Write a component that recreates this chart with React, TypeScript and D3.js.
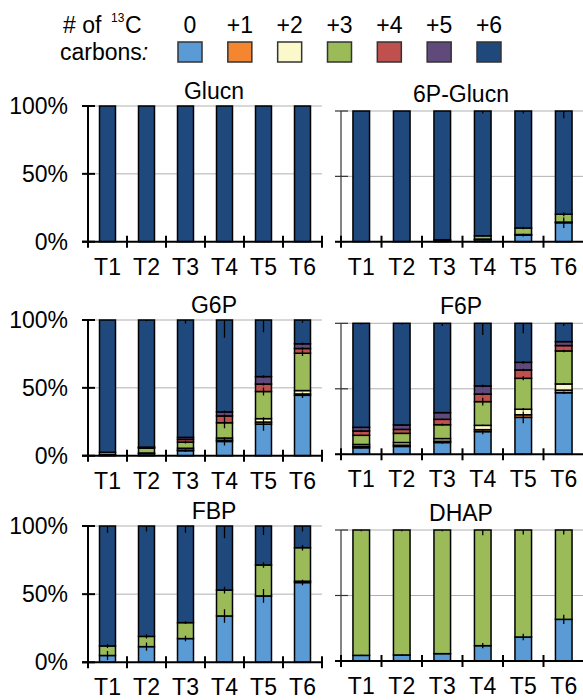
import React from "react";
import * as d3 from "d3";

// Sampling time points and isotopologue labels
const timepoints = ["T1", "T2", "T3", "T4", "T5", "T6"];
const isotopologues = ["0", "+1", "+2", "+3", "+4", "+5", "+6"];
const isoColors = ["#5B9BD5", "#F58631", "#FBF8CC", "#9BBB59", "#C0504D", "#604A7B", "#1F497D"];

// Fractional labelling (%) — rows: isotopologue 0..+6, columns: T1..T6
const glucn = [
  [0, 0, 0, 0, 0, 0],
  [0, 0, 0, 0, 0, 0],
  [0, 0, 0, 0, 0, 0],
  [0, 0, 0, 0, 0, 0],
  [0, 0, 0, 0, 0, 0],
  [0, 0, 0, 0, 0, 0],
  [100, 100, 100, 100, 100, 100],
];
const glucnErr = [
  [0, 0, 0, 0, 0, 0],
  [0, 0, 0, 0, 0, 0],
  [0, 0, 0, 0, 0, 0],
  [0, 0, 0, 0, 0, 0],
  [0, 0, 0, 0, 0, 0],
  [0, 0, 0, 0, 0, 0],
  [0, 0, 0, 0, 0, 0],
];

const glucn6p = [
  [0, 0, 0.5, 1.5, 5, 14.5],
  [0, 0, 0, 0, 0, 0],
  [0, 0, 0, 0.5, 0.5, 0.5],
  [0, 0, 1, 2.5, 5, 6],
  [0, 0, 0, 0, 0, 0],
  [0, 0, 0, 0, 0, 0],
  [100, 100, 98.5, 95.5, 89.5, 79],
];
const glucn6pErr = [
  [0, 0, 0, 0.5, 1, 4],
  [0, 0, 0, 0, 0, 0],
  [0, 0, 0, 0, 0, 0],
  [0, 0, 0, 0.5, 1, 1.5],
  [0, 0, 0, 0, 0, 0],
  [0, 0, 0, 0, 0, 0],
  [0, 0, 0, 2, 2, 5.5],
];

const g6p = [
  [0.5, 1.5, 3.7, 10.5, 23.3, 44.5],
  [0, 0, 0.5, 1, 1.5, 1],
  [0.3, 0.5, 1.3, 1.5, 2.5, 2.5],
  [1.7, 3.5, 4.5, 11.3, 20, 27.5],
  [0, 0.5, 2, 5, 5.5, 3.5],
  [0, 0.3, 1.5, 3, 5.5, 3.5],
  [97.5, 93.7, 86.5, 67.7, 41.7, 17.5],
];
const g6pErr = [
  [0, 0.5, 1, 3, 5, 2],
  [0, 0, 0, 0, 0, 0],
  [0, 0, 0, 0.5, 0.5, 0.5],
  [0, 0.5, 1, 4, 3, 2],
  [0, 0, 0.5, 1, 1, 1],
  [0, 0, 0.5, 1, 1, 1],
  [0, 1, 2.5, 13, 9, 2],
];

const f6p = [
  [5, 6, 9, 17.3, 28.2, 47],
  [1, 1, 1, 1.5, 2, 2],
  [1.5, 2, 2, 3.3, 4.2, 4.7],
  [7, 7, 10.6, 18.1, 23.6, 25.2],
  [3.3, 3, 4.1, 5.8, 6.4, 4.1],
  [2.8, 3.4, 5.1, 6.2, 5.8, 3],
  [79.4, 77.6, 68.2, 47.8, 29.8, 14],
];
const f6pErr = [
  [0.5, 0.5, 1, 2, 4.5, 1],
  [0, 0, 0, 0, 0, 0],
  [0, 0, 0.5, 0.5, 1, 0.5],
  [0.5, 0.5, 1, 3, 1.5, 1],
  [1, 0.5, 0.5, 1, 1, 0.5],
  [0.5, 0.5, 0.5, 1, 1, 0.5],
  [1, 1, 2, 9, 7.5, 2],
];

const fbp = [
  [5, 11.5, 17.4, 34, 48.7, 58.5],
  [0, 0, 0, 0, 0, 1],
  [0, 0, 0, 0, 0, 0],
  [7, 7.5, 11.7, 19, 22.7, 24.6],
  [0, 0, 0, 0, 0, 0],
  [0, 0, 0, 0, 0, 0],
  [88, 81, 70.9, 47, 28.6, 15.9],
];
const fbpErr = [
  [3.3, 3, 2, 5, 5, 2],
  [0, 0, 0, 0, 0, 0],
  [0, 0, 0, 0, 0, 0],
  [1.5, 1.5, 1, 2.5, 2, 2],
  [0, 0, 0, 0, 0, 0],
  [0, 0, 0, 0, 0, 0],
  [5, 4, 5, 9, 6.6, 4],
];

const dhap = [
  [4.3, 4.6, 5.6, 11.7, 18.3, 31.8],
  [0, 0, 0, 0, 0, 0],
  [0, 0, 0, 0, 0, 0],
  [95.7, 95.4, 94.4, 88.3, 81.7, 68.2],
  [0, 0, 0, 0, 0, 0],
  [0, 0, 0, 0, 0, 0],
  [0, 0, 0, 0, 0, 0],
];
const dhapErr = [
  [0.5, 0.5, 0.5, 2, 2.5, 3.5],
  [0, 0, 0, 0, 0, 0],
  [0, 0, 0, 0, 0, 0],
  [1, 1, 1, 4, 3.5, 3.5],
  [0, 0, 0, 0, 0, 0],
  [0, 0, 0, 0, 0, 0],
  [0, 0, 0, 0, 0, 0],
];

const metabolites = ["Glucn", "6P-Glucn", "G6P", "F6P", "FBP", "DHAP"];
const yTicks = [0, 50, 100];

const FONT = "'Liberation Sans', Arial, sans-serif";
const FS = 23;
const W = 583;
const H = 700;

// Panel frames: [left, right, top, bottom]
const frames: [number, number, number, number][] = [
  [88, 322, 106, 241.7],
  [341, 584, 111, 241.7],
  [88, 322, 320, 455.7],
  [341, 584, 323.3, 454.3],
  [88, 322, 526, 662.3],
  [341, 584, 530, 661],
];

type PanelProps = {
  title: string;
  values: number[][];
  errors: number[][];
  frame: [number, number, number, number];
  left: boolean;
};

function Panel({ title, values, errors, frame, left }: PanelProps) {
  const [x0, x1, top, bottom] = frame;
  const x = d3
    .scaleBand<string>()
    .domain(timepoints)
    .range([x0, x1])
    .paddingInner(0.59)
    .paddingOuter(0.295);
  const y = d3.scaleLinear().domain([0, 100]).range([bottom, top]);

  const rows = timepoints.map((t, j) => {
    const r: Record<string, any> = { t };
    isotopologues.forEach((k, i) => (r[k] = values[i][j]));
    return r;
  });
  const stacked = d3.stack<Record<string, any>>().keys(isotopologues)(rows);
  const step = x.step();
  const boundaries = d3.range(timepoints.length + 1).map((i) => x0 + i * step);
  const clipId = `clip-${title.replace(/[^a-zA-Z0-9]/g, "")}`;
  const axisColor = left ? "#000" : "#333";
  const axisWidth = left ? 2 : 1.2;

  return (
    <g>
      <defs>
        <clipPath id={clipId}>
          <rect x={x0 - 5} y={top} width={x1 - x0 + 10} height={bottom - top} />
        </clipPath>
      </defs>
      {/* gridlines */}
      {yTicks
        .filter((v) => v > 0)
        .map((v) => (
          <line key={v} x1={x0} x2={x1} y1={y(v)} y2={y(v)} stroke="#b0b0b0" strokeWidth={1} />
        ))}
      {/* stacked bars */}
      {stacked.map((layer, i) =>
        layer.map((d, j) => {
          const h = y(d[0]) - y(d[1]);
          if (values[i][j] <= 0) return null;
          return (
            <rect
              key={`${i}-${j}`}
              x={x(timepoints[j])}
              y={y(d[1])}
              width={x.bandwidth()}
              height={h}
              fill={isoColors[i]}
              stroke="#000"
              strokeWidth={1.5}
            />
          );
        })
      )}
      {/* error bars at each cumulative top */}
      <g clipPath={`url(#${clipId})`}>
        {stacked.map((layer, i) =>
          layer.map((d, j) => {
            const sd = errors[i][j];
            if (!sd || values[i][j] <= 0) return null;
            const cx = (x(timepoints[j]) as number) + x.bandwidth() / 2;
            return (
              <line
                key={`e${i}-${j}`}
                x1={cx}
                x2={cx}
                y1={y(Math.min(100, d[1] + sd))}
                y2={y(Math.max(0, d[1] - sd))}
                stroke="#000"
                strokeWidth={1.3}
              />
            );
          })
        )}
      </g>
      {/* y axis */}
      <line x1={x0} x2={x0} y1={top} y2={bottom} stroke={axisColor} strokeWidth={axisWidth} />
      {yTicks.map((v) => (
        <g key={`yt${v}`}>
          <line
            x1={x0 - 6}
            x2={x0 + 7}
            y1={y(v)}
            y2={y(v)}
            stroke={axisColor}
            strokeWidth={axisWidth}
          />
          {left && (
            <text
              x={x0 - 20}
              y={y(v)}
              dy="0.35em"
              textAnchor="end"
              fontSize={FS}
              fontFamily={FONT}
              fill="#000"
            >
              {`${v}%`}
            </text>
          )}
        </g>
      ))}
      {/* x axis */}
      <line x1={x0 - 6} x2={x1} y1={bottom} y2={bottom} stroke="#000" strokeWidth={2} />
      {boundaries.map((bx, i) => (
        <line key={`xt${i}`} x1={bx} x2={bx} y1={bottom - 6} y2={bottom + 6} stroke="#000" strokeWidth={2} />
      ))}
      {timepoints.map((t) => (
        <text
          key={t}
          x={(x(t) as number) + x.bandwidth() / 2}
          y={bottom + 33}
          textAnchor="middle"
          fontSize={FS}
          fontFamily={FONT}
          fill="#000"
        >
          {t}
        </text>
      ))}
      {/* title */}
      <text
        x={left ? 214 : 461}
        y={top - (left ? 7 : 9)}
        textAnchor="middle"
        fontSize={FS}
        fontFamily={FONT}
        fill="#000"
      >
        {title}
      </text>
    </g>
  );
}

function Legend() {
  const sx = d3.scaleLinear().domain([0, isotopologues.length - 1]).range([178, 477]);
  return (
    <g fontFamily={FONT} fill="#000">
      <text x={63} y={33} fontSize={FS}>
        # of
      </text>
      <text x={111} y={22} fontSize={12}>
        13
      </text>
      <text x={125} y={33} fontSize={FS}>
        C
      </text>
      <text x={60} y={60} fontSize={FS}>
        carbons<tspan fontStyle="italic">:</tspan>
      </text>
      {isotopologues.map((k, i) => (
        <g key={k}>
          <text x={sx(i) + 12} y={33} textAnchor="middle" fontSize={FS}>
            {k}
          </text>
          <rect
            x={sx(i)}
            y={42}
            width={24}
            height={20}
            fill={isoColors[i]}
            stroke="#333"
            strokeWidth={1.5}
          />
        </g>
      ))}
    </g>
  );
}

export default function App() {
  const panelValues = [glucn, glucn6p, g6p, f6p, fbp, dhap];
  const panelErrors = [glucnErr, glucn6pErr, g6pErr, f6pErr, fbpErr, dhapErr];
  return (
    <svg
      width={W}
      height={H}
      viewBox={`0 0 ${W} ${H}`}
      style={{ position: "absolute", left: 0, top: 0, background: "#fff" }}
    >
      <rect width={W} height={H} fill="#fff" />
      <Legend />
      {metabolites.map((m, i) => (
        <Panel
          key={m}
          title={m}
          values={panelValues[i]}
          errors={panelErrors[i]}
          frame={frames[i]}
          left={i % 2 === 0}
        />
      ))}
    </svg>
  );
}
